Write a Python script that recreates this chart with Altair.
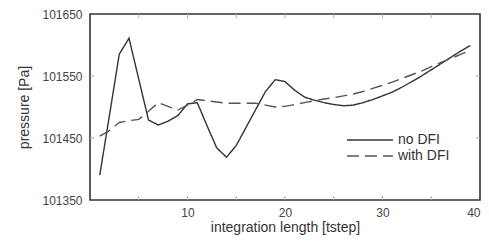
import altair as alt
import pandas as pd

steps = list(range(1, 40))
no_dfi = [101390, 101487, 101585, 101611, 101545, 101479, 101471, 101477, 101486, 101505,
          101507, 101470, 101434, 101419, 101438, 101467, 101496, 101525, 101544, 101541,
          101527, 101516, 101511, 101507, 101504, 101502, 101503, 101507, 101512, 101518,
          101524, 101532, 101541, 101550, 101560, 101570, 101580, 101590, 101599]
with_dfi = [101453, 101462, 101475, 101478, 101480, 101493, 101507, 101501, 101495, 101503,
            101512, 101510, 101508, 101506, 101506, 101506, 101506, 101503, 101500, 101501,
            101504, 101507, 101510, 101513, 101515, 101518, 101521, 101525, 101530, 101535,
            101540, 101546, 101552, 101558, 101565, 101572, 101578, 101585, 101591]
series_names = ["no DFI", "with DFI"]
x_ticks = [10, 20, 30, 40]
y_ticks = [101350, 101450, 101550, 101650]

rows = []
for s, vals in zip(series_names, [no_dfi, with_dfi]):
    for x, v in zip(steps, vals):
        rows.append({"step": x, "pressure": v, "series": s})
df = pd.DataFrame(rows)

W, H = 390, 186
font = "Liberation Sans"
colors = ["#333333", "#555555"]
dashes = [[1, 0], [12, 6]]

lines = alt.Chart(df).mark_line(strokeWidth=1.4).encode(
    x=alt.X("step:Q", scale=alt.Scale(domain=[0, 40], nice=False),
            axis=alt.Axis(values=x_ticks, title="integration length [tstep]", grid=False,
                          tickSize=0, labelPadding=7, titlePadding=2, domain=False,
                          labelFlush=True,
                          labelFontSize=12, titleFontSize=14, labelColor="#444",
                          titleColor="#333", labelFont=font, titleFont=font,
                          titleFontWeight="normal")),
    y=alt.Y("pressure:Q", scale=alt.Scale(domain=[101350, 101650], nice=False, zero=False),
            axis=alt.Axis(values=y_ticks, title="pressure [Pa]", grid=False, format="d",
                          tickSize=0, labelPadding=8, titlePadding=10, domain=False,
                          labelFlush=False,
                          labelFontSize=12, titleFontSize=14, labelColor="#444",
                          titleColor="#333", labelFont=font, titleFont=font,
                          titleFontWeight="normal")),
    color=alt.Color("series:N", scale=alt.Scale(domain=series_names, range=colors), legend=None),
    strokeDash=alt.StrokeDash("series:N", scale=alt.Scale(domain=series_names, range=dashes),
                              legend=None),
)

# manual legend (inside the plot, right side)
leg = pd.DataFrame({"series": series_names})
leg_y = [126, 142]
leg_rules = []
leg_texts = []
for i, s in enumerate(series_names):
    d = leg[leg.series == s]
    leg_rules.append(alt.Chart(d).mark_rule(strokeWidth=1.4, color=colors[i], strokeDash=dashes[i]).encode(
        x=alt.value(257), x2=alt.value(303), y=alt.value(leg_y[i])))
    leg_texts.append(alt.Chart(d).mark_text(align="left", baseline="middle", font=font, fontSize=14,
                                            color="#333").encode(
        x=alt.value(308), y=alt.value(leg_y[i]), text="series:N"))

tickdf = pd.DataFrame({"t": [5, 10, 15, 20, 25, 30, 35]})
xt = alt.Chart(tickdf).mark_rule(color="#aaa", strokeWidth=1).encode(
    x="t:Q", y=alt.value(H - 4), y2=alt.value(H))
xt2 = alt.Chart(tickdf).mark_rule(color="#aaa", strokeWidth=1).encode(
    x="t:Q", y=alt.value(0), y2=alt.value(4))
ytdf = pd.DataFrame({"v": [101450, 101550]})
yt = alt.Chart(ytdf).mark_rule(color="#aaa", strokeWidth=1).encode(
    y="v:Q", x=alt.value(0), x2=alt.value(4))
yt2 = alt.Chart(ytdf).mark_rule(color="#aaa", strokeWidth=1).encode(
    y="v:Q", x=alt.value(W - 4), x2=alt.value(W))

chart = alt.layer(xt, xt2, yt, yt2, lines, *leg_rules, *leg_texts).properties(
    width=W, height=H,
    autosize=alt.AutoSizeParams(type="none"),
    padding={"left": 82, "top": 6, "right": 1, "bottom": 36},
    background="white",
).configure_view(stroke="#333333", strokeWidth=1.6)

chart.save("out.html", embed_options={"renderer": "svg", "actions": False})
